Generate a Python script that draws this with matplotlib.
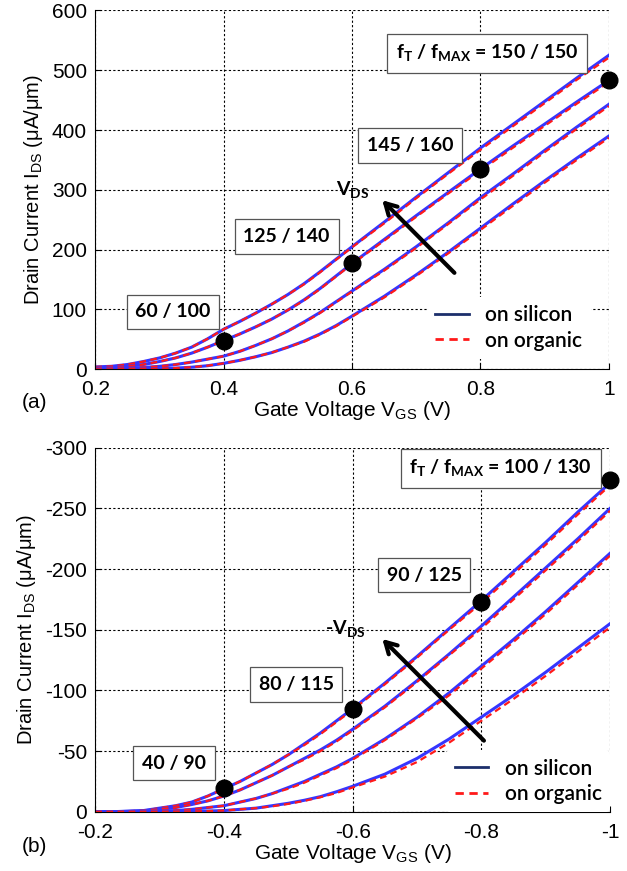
import matplotlib
matplotlib.use("Agg")
from matplotlib import pyplot as plt
from matplotlib.lines import Line2D

plt.rcParams['font.family'] = ['Liberation Sans', 'DejaVu Sans']
plt.rcParams['axes.unicode_minus'] = False

# ---- data ----
vgs_a = [0.2, 0.225, 0.25, 0.275, 0.3, 0.325, 0.35, 0.375, 0.4, 0.425, 0.45, 0.475, 0.5,
         0.525, 0.55, 0.575, 0.6, 0.65, 0.7, 0.75, 0.8, 0.85, 0.9, 0.95, 1.0]
ids_a_si = [
    [4, 5, 8, 13, 19, 27, 37, 51, 67, 80, 94, 109, 125, 143, 163, 184, 205, 246, 288, 329, 370, 409, 448, 487, 525],
    [2, 3, 5, 8, 13, 19, 27, 37, 48, 59, 71, 84, 99, 116, 135, 156, 177, 217, 257, 296, 335, 373, 410, 447, 483],
    [1, 1.5, 2, 3, 5, 8, 12, 17, 22, 30, 40, 51, 64, 79, 95, 113, 131, 167, 205, 245, 287, 326, 366, 405, 443],
    [0, 0, 0.5, 0.8, 1, 2, 3.5, 6, 10, 15, 21, 28, 37, 47, 59, 73, 89, 122, 158, 196, 236, 276, 315, 353, 390],
]
ids_a_org = [
    [4, 5, 8, 13, 19, 27, 37, 51, 67, 80, 94, 109, 125, 142, 162, 183, 204, 244, 286, 327, 367, 406, 445, 484, 521],
    [2, 3, 5, 8, 13, 19, 27, 37, 48, 59, 71, 84, 99, 115, 134, 155, 176, 215, 255, 294, 332, 370, 407, 444, 480],
    [1, 1.5, 2, 3, 5, 8, 12, 17, 22, 30, 40, 51, 64, 78, 94, 112, 130, 165, 203, 243, 284, 323, 363, 402, 440],
    [0, 0, 0.5, 0.8, 1, 2, 3.5, 6, 10, 15, 21, 28, 37, 46, 58, 72, 88, 120, 156, 194, 233, 273, 312, 350, 387],
]
dots_a_x = [0.4, 0.6, 0.8, 1.0]
dots_a_y = [48, 177, 335, 483]
labels_a = ['60 / 100', '125 / 140', '145 / 160']

vgs_b = [-0.2, -0.225, -0.25, -0.275, -0.3, -0.325, -0.35, -0.375, -0.4, -0.425, -0.45, -0.475, -0.5,
         -0.525, -0.55, -0.575, -0.6, -0.65, -0.7, -0.75, -0.8, -0.85, -0.9, -0.95, -1.0]
ids_b_si = [
    [0, 0, -0.5, -1, -3, -5, -8, -13, -19, -25, -32, -39, -47, -56, -65, -75, -85, -106, -128, -151, -174, -198, -222, -247, -271],
    [0, 0, -0.3, -0.8, -2, -3.5, -6, -9, -13, -18, -24, -30, -37, -44, -51, -59, -68, -87, -108, -130, -153, -177, -201, -225, -250],
    [0, 0, 0, -0.3, -0.5, -1, -2, -3.5, -5, -8, -11, -15, -20, -25, -31, -37, -44, -60, -78, -98, -120, -142, -165, -189, -213],
    [0, 0, 0, 0, 0, -0.2, -0.3, -0.6, -1, -2, -3, -5, -7, -9.5, -12.5, -16.5, -21, -31, -44, -60, -78, -96, -115, -135, -155],
]
ids_b_org = [
    [0, 0, -0.5, -1, -3, -5, -8, -13, -19, -25, -32, -39, -47, -55, -64, -74, -84, -105, -127, -150, -172, -196, -220, -245, -269],
    [0, 0, -0.3, -0.8, -2, -3.5, -6, -9, -13, -18, -24, -30, -37, -43, -50, -58, -67, -86, -107, -129, -151, -175, -199, -223, -248],
    [0, 0, 0, -0.3, -0.5, -1, -2, -3.5, -5, -8, -11, -15, -19, -24, -30, -36, -43, -59, -77, -96, -118, -140, -163, -187, -211],
    [0, 0, 0, 0, 0, -0.2, -0.3, -0.6, -1, -2, -3, -4.5, -6.5, -9, -12, -15.5, -20, -29, -41, -57, -75, -93, -112, -132, -152],
]
dots_b_x = [-0.4, -0.6, -0.8, -1.0]
dots_b_y = [-20, -85, -173, -273]
labels_b = ['40 / 90', '80 / 115', '90 / 125']

fig = plt.figure(figsize=(6.27, 8.71), dpi=100)
ax1 = fig.add_axes([0.152, 0.576, 0.819, 0.412])
ax2 = fig.add_axes([0.152, 0.068, 0.821, 0.418])

box = dict(boxstyle='square,pad=0.45', fc='white', ec='#555555', lw=0.9)
boldfont = dict(family=['Lato', 'DejaVu Sans'], fontweight='bold', fontsize=14)
legfont = dict(family=['Lato', 'DejaVu Sans'], weight='semibold', size=15)
arrow = dict(arrowstyle='->,head_length=0.8,head_width=0.45', lw=3, color='black')


def style(ax):
    ax.grid(True, color='black', linestyle=(0, (2, 2)), linewidth=0.8)
    ax.spines['top'].set_visible(False)
    ax.spines['right'].set_visible(False)
    ax.tick_params(direction='in', labelsize=15, length=4)
    ax.tick_params(axis='x', pad=8)
    ax.tick_params(axis='y', pad=6)
    ax.set_axisbelow(True)


for i in range(4):
    ax1.plot(vgs_a, ids_a_si[i], color='#3535ff', lw=2.2)
    ax1.plot(vgs_a, ids_a_org[i], color='#ff1a1a', lw=1.6, dashes=(3, 2))
ax1.plot(dots_a_x, dots_a_y, 'o', color='black', ms=12, zorder=5, clip_on=False)
ax1.set_xlim(0.2, 1.0)
ax1.set_ylim(0, 600)
ax1.set_xticks([0.2, 0.4, 0.6, 0.8, 1.0])
ax1.set_xticklabels(['0.2', '0.4', '0.6', '0.8', '1'])
ax1.set_yticks([0, 100, 200, 300, 400, 500, 600])
style(ax1)
ax1.set_xlabel('Gate Voltage V$_\\mathregular{GS}$ (V)', fontsize=15, labelpad=0)
ax1.set_ylabel('Drain Current I$_\\mathregular{DS}$ ($\\mathregular{\\mu}$A/$\\mathregular{\\mu}$m)', fontsize=14.5, labelpad=5)
ax1.text(0.321, 96, labels_a[0], ha='center', va='center', bbox=box, **boldfont)
ax1.text(0.498, 222, labels_a[1], ha='center', va='center', bbox=box, **boldfont)
ax1.text(0.69, 374, labels_a[2], ha='center', va='center', bbox=box, **boldfont)
ax1.text(0.81, 528, 'f$_\\mathregular{T}$ / f$_\\mathregular{MAX}$ = 150 / 150',
         ha='center', va='center', bbox=box, **boldfont)
ax1.annotate('', xy=(0.644, 286), xytext=(0.7625, 158), arrowprops=arrow)
ax1.text(0.601, 300, 'V$_\\mathregular{DS}$', ha='center', va='center', **boldfont)
handles = [Line2D([], [], color='#1c2f6b', lw=2), Line2D([], [], color='#ff1a1a', lw=2, dashes=(3, 2))]
ax1.legend(handles, ['on silicon', 'on organic'], loc='lower right', bbox_to_anchor=(0.985, 0.0),
           frameon=True, facecolor='white', edgecolor='none', framealpha=1, handlelength=1.6,
           prop=legfont, labelspacing=0.25)
fig.text(0.035, 0.532, '(a)', fontsize=15)

for i in range(4):
    ax2.plot(vgs_b, ids_b_si[i], color='#3535ff', lw=2.2)
    ax2.plot(vgs_b, ids_b_org[i], color='#ff1a1a', lw=1.6, dashes=(3, 2))
ax2.plot(dots_b_x, dots_b_y, 'o', color='black', ms=12, zorder=5, clip_on=False)
ax2.set_xlim(-0.2, -1.0)
ax2.set_ylim(0, -300)
ax2.set_xticks([-0.2, -0.4, -0.6, -0.8, -1.0])
ax2.set_xticklabels(['-0.2', '-0.4', '-0.6', '-0.8', '-1'])
ax2.set_yticks([0, -50, -100, -150, -200, -250, -300])
ax2.set_yticklabels(['0', '-50', '-100', '-150', '-200', '-250', '-300'])
style(ax2)
ax2.set_xlabel('Gate Voltage V$_\\mathregular{GS}$ (V)', fontsize=15, labelpad=0)
ax2.set_ylabel('Drain Current I$_\\mathregular{DS}$ ($\\mathregular{\\mu}$A/$\\mathregular{\\mu}$m)', fontsize=14.5, labelpad=5)
ax2.text(-0.322, -40, labels_b[0], ha='center', va='center', bbox=box, **boldfont)
ax2.text(-0.512, -105, labels_b[1], ha='center', va='center', bbox=box, **boldfont)
ax2.text(-0.711, -195, labels_b[2], ha='center', va='center', bbox=box, **boldfont)
ax2.text(-0.83, -283, 'f$_\\mathregular{T}$ / f$_\\mathregular{MAX}$ = 100 / 130',
         ha='center', va='center', bbox=box, **boldfont)
ax2.annotate('', xy=(-0.643, -144), xytext=(-0.807, -57), arrowprops=arrow)
ax2.text(-0.588, -150, '-V$_\\mathregular{DS}$', ha='center', va='center', **boldfont)
ax2.legend(handles, ['on silicon', 'on organic'], loc='lower right', bbox_to_anchor=(1.02, -0.03),
           frameon=True, facecolor='white', edgecolor='none', framealpha=1, handlelength=1.6,
           prop=legfont, labelspacing=0.25)
fig.text(0.035, 0.022, '(b)', fontsize=15)

fig.savefig('out.png', dpi=100)
